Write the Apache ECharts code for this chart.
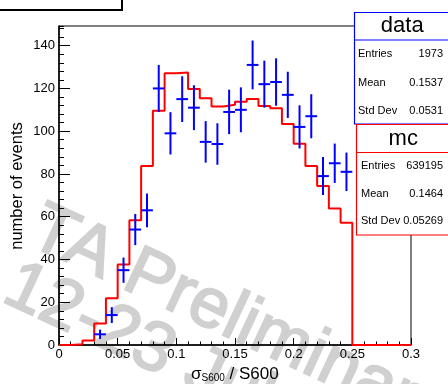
<!DOCTYPE html>
<html><head><meta charset="utf-8">
<script src="https://cdn.jsdelivr.net/npm/echarts@6/dist/echarts.min.js"></script>
<style>html,body{margin:0;padding:0;background:#fff}#c{width:448px;height:384px}</style>
</head><body><div id="c"></div>
<script>
// MC histogram: lower bin edges and contents
const mcBinLow = [0,0.01,0.02,0.03,0.04,0.05,0.06,0.07,0.08,0.09,0.10,0.11,0.12,0.13,0.14,0.15,0.16,0.17,0.18,0.19,0.20,0.21,0.22,0.23,0.24,0.25,0.26,0.27,0.28,0.29];
const mcCounts = [0,0.3,2.1,10.1,21.9,37.7,58.3,83.7,109.6,127.1,127.5,119.7,115.4,111.5,112.4,113.8,115.1,111.8,110.7,103.4,94.1,83.7,74.4,63.9,57.2,0,0,0,0,0];
const mcUpperEdge = 0.3;
// data points: bin centres, counts, errors
const dataCenters = [0.035,0.045,0.055,0.065,0.075,0.085,0.095,0.105,0.115,0.125,0.135,0.145,0.155,0.165,0.175,0.185,0.195,0.205,0.215,0.225,0.235,0.245];
const dataCounts  = [5,14,35,54,63,120,99,115,111,95,94,109,110,131,122,123,117,102,107,79,85,81];
const dataErrors  = [2.2,3.7,5.9,7.3,7.9,11.0,9.9,10.7,10.5,9.7,9.7,10.4,10.5,11.4,11.0,11.1,10.8,10.1,10.3,8.9,9.2,9.0];
const dataHalfWidth = 0.005;
// tick labels
const xTickLabels = ['0','0.05','0.1','0.15','0.2','0.25','0.3'];
const yTickLabels = ['0','20','40','60','80','100','120','140'];
// stats boxes
const dataStats = [['Entries','1973'],['Mean','0.1537'],['Std Dev','0.0531']];
const mcStats = [['Entries','639195'],['Mean','0.1464'],['Std Dev','0.05269']];

const FONT = 'Liberation Sans, Arial, Helvetica, sans-serif';
const YMAX = 149.2;

const mcLine = mcBinLow.map((x,i)=>[x, mcCounts[i]]);
mcLine.push([mcUpperEdge, mcCounts[mcCounts.length-1]]);
const dataPts = dataCenters.map((x,i)=>[x, dataCounts[i], dataErrors[i]]);

const chart = echarts.init(document.getElementById('c'), null, {renderer:'canvas'});

function statsBox(x, y, w, h, divY, title, rows, color, rowYs, labelX){
  const els = [
    {type:'rect', shape:{x:x, y:y, width:w, height:h}, style:{fill:'#fff', stroke:color, lineWidth:1.2}, z:100},
    {type:'line', shape:{x1:x, y1:divY, x2:x+w, y2:divY}, style:{stroke:color, lineWidth:1.2}, z:101},
    {type:'text', x:(x+448)/2+1, y:(y+divY)/2, style:{text:title, font:'22px '+FONT, fill:'#000', align:'center', verticalAlign:'middle'}, z:101}
  ];
  rows.forEach((r,i)=>{
    els.push({type:'text', x:labelX, y:rowYs[i], style:{text:r[0], font:'11px '+FONT, fill:'#000', align:'left', verticalAlign:'middle'}, z:101});
    els.push({type:'text', x:443, y:rowYs[i], style:{text:r[1], font:'11px '+FONT, fill:'#000', align:'right', verticalAlign:'middle'}, z:101});
  });
  return els;
}

const rot = -25*Math.PI/180;
const wmStyle = {font:'70px '+FONT, fill:'#d0d0d0', stroke:'#d0d0d0', lineWidth:2, align:'left', verticalAlign:'top'};
const graphics = [
  {type:'text', x:49, y:194, rotation:rot, style:Object.assign({text:'TA Preliminary'}, wmStyle), z:-10, silent:true},
  {type:'text', x:23, y:251, rotation:rot, style:Object.assign({text:'12-23 July'}, wmStyle), z:-10, silent:true},
  {type:'rect', shape:{x:-5, y:-10, width:127, height:20}, style:{fill:'#fff', stroke:'#000', lineWidth:2}, z:100},
  {type:'text', x:17, y:186, rotation:Math.PI/2, style:{text:'number of events', font:'16.5px '+FONT, fill:'#000', align:'center', verticalAlign:'middle'}, z:50},
  {type:'text', x:191, y:374, style:{rich:{a:{font:'17px '+FONT, fill:'#000'}, b:{font:'10px '+FONT, fill:'#000', padding:[9,0,0,0]}}, text:'{a|σ}{b|S600}{a| / S600}', align:'left', verticalAlign:'middle'}, z:50}
].concat(
  statsBox(354.5, 12.5, 100, 111.5, 40, 'data', dataStats, '#0000ff', [54,82.7,111], 358),
  statsBox(356.5, 124.5, 100, 110.5, 152.5, 'mc', mcStats, '#ff0000', [166,194,221], 361)
);

const option = {
  animation:false,
  backgroundColor:'#fff',
  grid:{left:59, right:37, top:26, bottom:39, show:true, borderColor:'#000', borderWidth:1, backgroundColor:'transparent'},
  xAxis:[
    {type:'value', min:0, max:0.3, interval:0.05, position:'bottom',
     axisLine:{show:true, lineStyle:{color:'#000', width:1.5}},
     axisTick:{show:true, inside:true, length:7, lineStyle:{color:'#000', width:1}},
     axisLabel:{show:true, margin:3, fontSize:13, fontFamily:FONT, color:'#000',
       formatter:(v)=>{const i=Math.round(v/0.05); return xTickLabels[i]!==undefined?xTickLabels[i]:'';}},
     splitLine:{show:false}},
    {type:'value', min:0, max:0.3, interval:0.01, position:'bottom', offset:0,
     axisLine:{show:false}, axisTick:{show:true, inside:true, length:3.5, lineStyle:{color:'#000', width:1}},
     axisLabel:{show:false}, splitLine:{show:false}}
  ],
  yAxis:[
    {type:'value', min:0, max:YMAX, interval:20, position:'left',
     axisLine:{show:true, lineStyle:{color:'#000', width:1.5}},
     axisTick:{show:true, inside:true, length:11, lineStyle:{color:'#000', width:1}},
     axisLabel:{show:true, margin:4, fontSize:13, fontFamily:FONT, color:'#000', showMaxLabel:false,
       formatter:(v)=>{const i=Math.round(v/20); return (Math.abs(v-i*20)<1e-6 && yTickLabels[i]!==undefined)?yTickLabels[i]:'';}},
     splitLine:{show:false}},
    {type:'value', min:0, max:YMAX, interval:4, position:'left', offset:0,
     axisLine:{show:false}, axisTick:{show:true, inside:true, length:5, lineStyle:{color:'#000', width:1}},
     axisLabel:{show:false}, splitLine:{show:false}}
  ],
  series:[
    {type:'line', xAxisIndex:0, yAxisIndex:0, data:mcLine, step:'end', symbol:'none',
     lineStyle:{color:'#ff0000', width:2}, z:5},
    {type:'custom', xAxisIndex:0, yAxisIndex:0, data:dataPts, z:6,
     renderItem:function(params, api){
       const x=api.value(0), y=api.value(1), e=api.value(2);
       const l=api.coord([x-dataHalfWidth,y]), r=api.coord([x+dataHalfWidth,y]);
       const t=api.coord([x,y+e]), b=api.coord([x,y-e]);
       return {type:'group', children:[
         {type:'line', shape:{x1:l[0],y1:l[1],x2:r[0],y2:r[1]}, style:{stroke:'#0000ff', lineWidth:2}},
         {type:'line', shape:{x1:t[0],y1:t[1],x2:b[0],y2:b[1]}, style:{stroke:'#0000ff', lineWidth:2}}
       ]};
     }}
  ],
  graphic:graphics
};
chart.setOption(option);
</script></body></html>
